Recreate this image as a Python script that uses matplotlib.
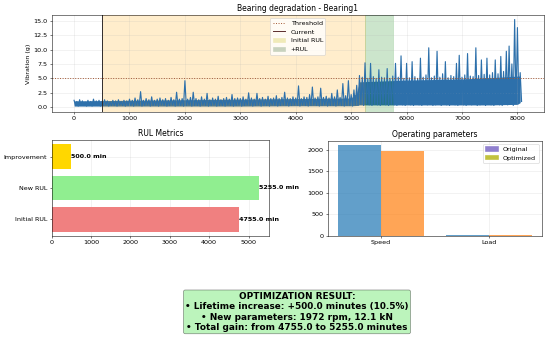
import numpy as np
from matplotlib import pyplot as plt
from matplotlib.patches import Patch
from matplotlib.lines import Line2D

# vibration signal: one high / low pair per 50 samples
sample_pos = np.arange(0, 8100, 50)
vib_high = [1.2, 1.0, 1.3, 1.1, 0.9, 1.2, 1.0, 1.4, 1.1, 1.2, 1.0, 1.3, 1.1, 0.9, 1.2, 1.1, 1.3, 1.0, 1.2, 1.1,
            1.4, 1.2, 1.6, 1.3, 2.7, 1.2, 1.5, 1.3, 1.8, 1.2, 1.4, 1.6, 1.3, 1.5, 1.2, 1.7, 1.3, 2.6, 1.4, 1.5,
            4.6, 1.4, 1.7, 2.6, 1.5, 1.3, 1.8, 1.4, 2.4, 1.3, 1.6, 1.4, 1.9, 1.3, 1.5, 1.7, 1.4, 2.2, 1.5, 1.6,
            1.5, 1.8, 1.4, 2.5, 1.6, 1.4, 2.4, 1.5, 1.7, 1.4, 1.9, 1.5, 1.6, 2.0, 1.5, 1.7, 2.6, 1.6, 1.5, 1.8,
            1.6, 3.7, 1.5, 1.8, 1.7, 2.2, 3.5, 1.6, 1.8, 3.3, 1.7, 1.9, 1.6, 2.4, 1.8, 3.0, 1.7, 4.1, 2.0, 4.6,
            2.2, 3.0, 3.8, 5.5, 5.2, 7.7, 5.0, 7.6, 5.3, 5.0, 6.5, 5.2, 5.1, 6.7, 5.0, 5.4, 7.6, 5.2, 8.9, 5.0,
            7.6, 5.1, 7.9, 5.3, 5.0, 8.5, 5.2, 5.6, 10.3, 5.1, 5.4, 9.7, 5.2, 5.8, 7.9, 5.1, 5.5, 5.3, 7.6, 9.0,
            5.2, 5.6, 9.3, 5.4, 5.3, 10.3, 5.5, 8.2, 5.7, 8.5, 5.6, 6.0, 8.2, 5.8, 8.8, 6.2, 9.7, 10.6, 7.5, 15.2,
            13.8, 6.0]
vib_low = [0.3, 0.2, 0.4, 0.3, 0.2, 0.3, 0.2, 0.4, 0.3, 0.2, 0.3, 0.4, 0.2, 0.3, 0.3, 0.2, 0.4, 0.3, 0.2, 0.3,
           0.3, 0.2, 0.4, 0.3, 0.2, 0.3, 0.4, 0.2, 0.3, 0.3, 0.2, 0.4, 0.3, 0.2, 0.3, 0.4, 0.2, 0.3, 0.3, 0.2,
           0.3, 0.4, 0.2, 0.3, 0.3, 0.2, 0.4, 0.3, 0.2, 0.3, 0.4, 0.2, 0.3, 0.3, 0.2, 0.4, 0.3, 0.2, 0.3, 0.4,
           0.2, 0.3, 0.4, 0.3, 0.2, 0.3, 0.4, 0.2, 0.3, 0.3, 0.2, 0.4, 0.3, 0.2, 0.3, 0.4, 0.3, 0.2, 0.3, 0.4,
           0.3, 0.2, 0.4, 0.3, 0.2, 0.3, 0.4, 0.3, 0.2, 0.3, 0.4, 0.2, 0.3, 0.3, 0.2, 0.4, 0.3, 0.2, 0.3, 0.3,
           0.2, 0.4, 0.3, 0.5, 0.3, 0.6, 0.4, 0.3, 0.5, 0.4, 0.3, 0.6, 0.4, 0.3, 0.5, 0.4, 0.3, 0.6, 0.4, 0.3,
           0.5, 0.4, 0.3, 0.6, 0.4, 0.3, 0.5, 0.4, 0.6, 0.3, 0.4, 0.5, 0.3, 0.6, 0.4, 0.3, 0.5, 0.4, 0.3, 0.6,
           0.4, 0.3, 0.5, 0.4, 0.6, 0.3, 0.4, 0.5, 0.3, 0.6, 0.4, 0.3, 0.5, 0.4, 0.3, 0.6, 0.4, 0.5, 0.3, 0.6,
           0.8, 1.0]

# dense body of the signal (where the trace looks solid)
band_pos = [0, 1000, 2000, 3000, 4000, 5000, 5100, 5150, 6000, 7000, 7500, 8000, 8050]
band_top = [1.1, 1.2, 1.3, 1.4, 1.5, 1.6, 2.5, 4.4, 4.7, 4.9, 5.1, 5.4, 5.4]
band_bottom = [0.2, 0.2, 0.2, 0.2, 0.25, 0.25, 0.3, 0.4, 0.4, 0.4, 0.4, 0.5, 0.8]

threshold = 5.0
current_time = 500
initial_rul = 4755.0
new_rul = 5255.0
improvement = 500.0

rul_labels = ['Initial RUL', 'New RUL', 'Improvement']
rul_values = [initial_rul, new_rul, improvement]
rul_colors = ['lightcoral', 'lightgreen', 'gold']

param_names = ['Speed', 'Load']
param_original = [2100, 12.5]
param_optimized = [1972, 12.1]

result_text = ("OPTIMIZATION RESULT:\n"
               "• Lifetime increase: +500.0 minutes (10.5%)\n"
               "• New parameters: 1972 rpm, 12.1 kN\n"
               "• Total gain: from 4755.0 to 5255.0 minutes")

# figure drawn at a large size with a small dpi -> 550x339 px
fig = plt.figure(figsize=(12, 7.397), dpi=550 / 12)

# --- degradation signal
ax1 = fig.add_axes([0.094, 0.670, 0.895, 0.286])
sig_color = '#2d70ab'
x_sig = np.column_stack([sample_pos, sample_pos + 25]).ravel()
y_sig = np.column_stack([vib_high, vib_low]).ravel()
ax1.fill_between(band_pos, band_bottom, band_top, color=sig_color, lw=0)
ax1.plot(x_sig, y_sig, color=sig_color, lw=1.8)
ax1.axhline(threshold, color='#a0522d', ls=':', lw=1.5)
ax1.axvline(current_time, color='#2e2a2a', lw=1.5)
ax1.axvspan(current_time, current_time + initial_rul, color='orange', alpha=0.2)
ax1.axvspan(current_time + initial_rul, current_time + new_rul, color='green', alpha=0.2)
ax1.set_ylim(-0.8, 16.0)
ax1.set_ylabel('Vibration (g)')
ax1.set_title('Bearing degradation - Bearing1')
ax1.grid(alpha=0.3)
handles1 = [Line2D([], [], color='#a0522d', ls=':', lw=1.5),
            Line2D([], [], color='#5a2a2a', lw=1.5),
            Patch(color='#f0eab8'), Patch(color='#c8d2be')]
ax1.legend(handles1, ['Threshold', 'Current', 'Initial RUL', '+RUL'], loc='upper center')

# --- RUL metrics
ax2 = fig.add_axes([0.094, 0.304, 0.395, 0.283])
bars = ax2.barh(rul_labels, rul_values, color=rul_colors)
for b, v in zip(bars, rul_values):
    ax2.text(v, b.get_y() + b.get_height() / 2, f'{v} min', va='center', ha='left',
             fontweight='bold', fontsize=10)
ax2.set_title('RUL Metrics')
ax2.grid(alpha=0.3)
ax2.set_axisbelow(True)

# --- operating parameters
ax3 = fig.add_axes([0.596, 0.304, 0.389, 0.281])
xp = np.arange(len(param_names))
ax3.bar(xp - 0.2, param_original, 0.4, color='tab:blue', alpha=0.7)
ax3.bar(xp + 0.2, param_optimized, 0.4, color='tab:orange', alpha=0.7)
ax3.set_xticks(xp)
ax3.set_xticklabels(param_names)
ax3.set_title('Operating parameters')
ax3.grid(alpha=0.3)
ax3.set_axisbelow(True)
ax3.legend([Patch(color='#9080cf'), Patch(color='#c2c23e')], ['Original', 'Optimized'], loc='upper right')

fig.text(0.54, 0.08, result_text, ha='center', va='center', fontsize=14, fontweight='bold',
         bbox=dict(boxstyle='round,pad=0.2', facecolor='lightgreen', alpha=0.6, edgecolor='#333333'))

fig.savefig('out.png', dpi=550 / 12)
